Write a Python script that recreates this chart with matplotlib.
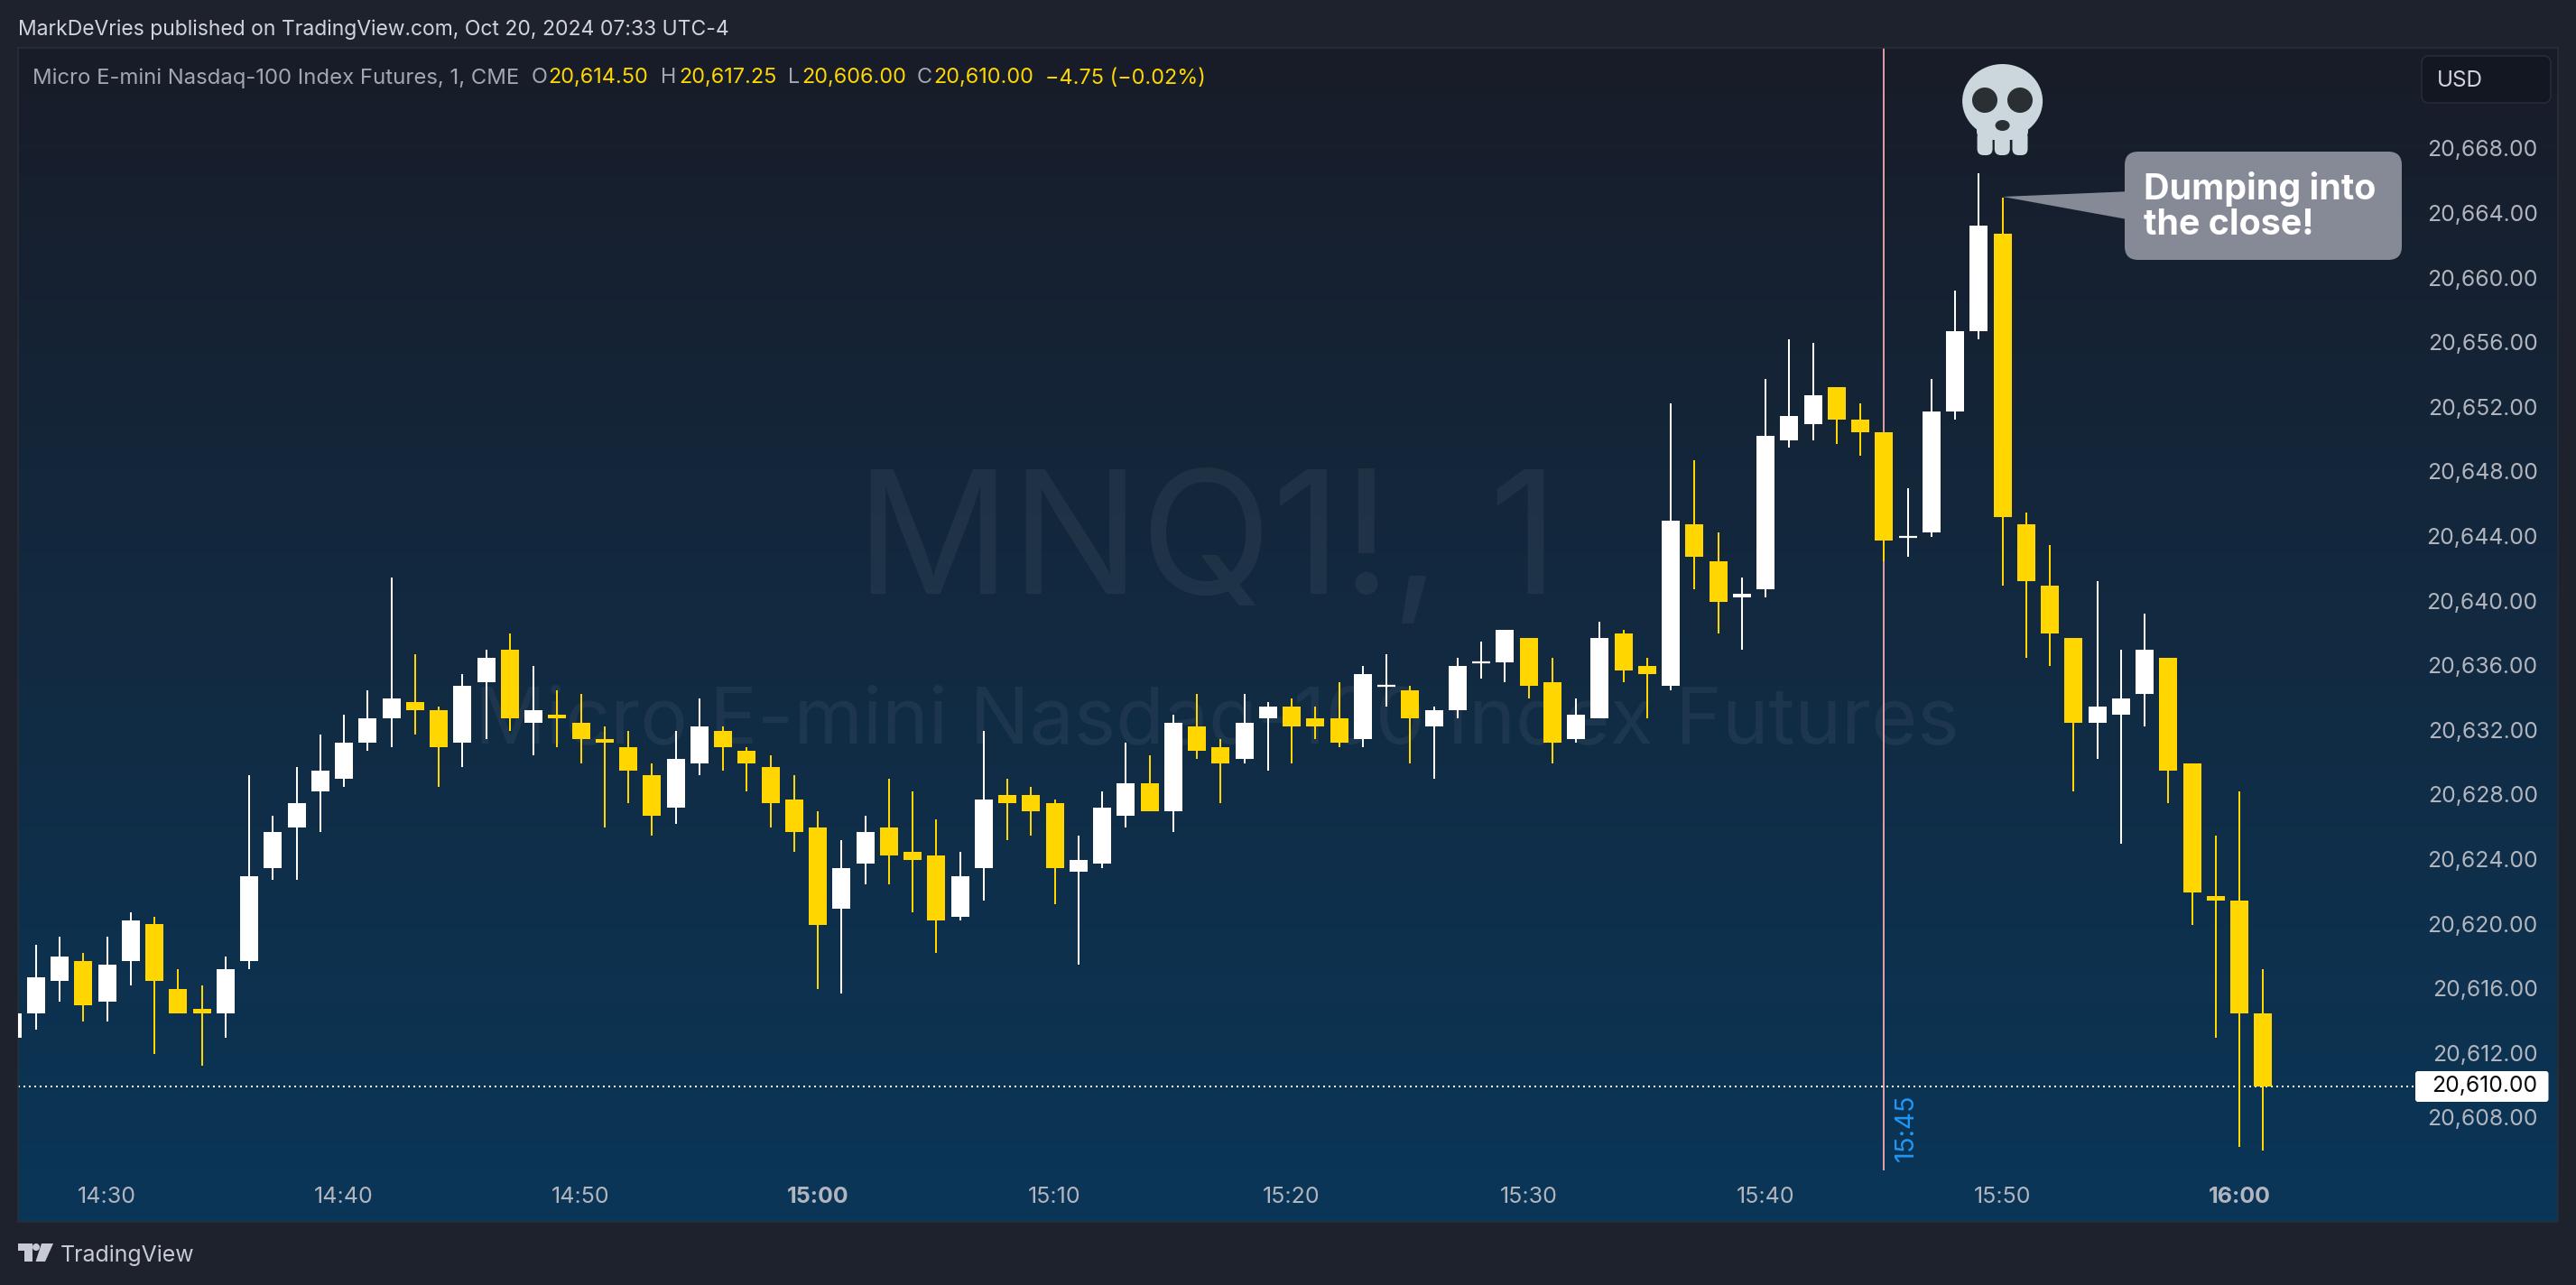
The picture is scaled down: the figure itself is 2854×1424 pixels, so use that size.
import numpy as np
import matplotlib
matplotlib.use("Agg")
import matplotlib.pyplot as plt
from matplotlib.patches import FancyBboxPatch, Ellipse, Polygon, Circle
from matplotlib.transforms import Affine2D
from matplotlib.colors import LinearSegmentedColormap

plt.rcParams['font.family'] = ['Inter', 'DejaVu Sans']

# minutes after midnight, one candle per minute (14:26 ... 16:01)
minutes = list(range(866, 962))
opens = [20613,20614.5,20616.5,20617.75,20615.25,20617.75,20620,20616,20614.75,20614.5,
         20617.75,20623.5,20626,20628.25,20629,20631.25,20632.75,20633.75,20633.25,20631.25,
         20635,20637,20632.5,20633,20632.5,20631.5,20631,20629.25,20627.25,20630,
         20632,20630.75,20629.75,20627.75,20626,20621,20623.75,20626,20624.5,20624.25,
         20620.5,20623.5,20628,20628,20627.5,20623.25,20623.75,20626.75,20628.75,20627,
         20632.25,20631,20630.25,20632.75,20633.5,20632.75,20632.75,20631.5,20634.75,20634.5,
         20632.25,20633.25,20636.25,20636.25,20637.75,20635,20631.5,20632.75,20638,20636,
         20634.75,20644.75,20642.5,20640.25,20640.75,20650,20651,20653.25,20651.25,20650.5,
         20644,20644.25,20651.75,20656.75,20662.75,20644.75,20641,20637.75,20632.5,20633,
         20634.25,20636.5,20630,20621.75,20621.5,20614.5]
highs = [20614.5,20618.75,20619.25,20618.25,20619.25,20620.75,20620.5,20617.25,20616.25,20618,
         20629.25,20626.75,20629.75,20631.75,20633,20634.5,20641.5,20636.75,20633.5,20635.5,
         20637,20638,20636,20634.5,20634.25,20632.25,20632,20630,20632,20634,
         20632.25,20631,20630.5,20629.25,20627,20625.25,20626.75,20629,20628.25,20626.5,
         20624.5,20632,20629,20628.5,20627.75,20625.5,20628.25,20631.25,20630.5,20633,
         20634.25,20631.5,20634.25,20633.75,20634,20633.5,20635,20636,20636.75,20634.75,
         20633.5,20636.5,20637.5,20638.25,20637.75,20636.5,20634,20638.75,20638.25,20636.5,
         20652.25,20648.75,20644.25,20641.5,20653.75,20656.25,20656,20653.25,20652.25,20650.5,
         20647,20653.75,20659.25,20666.5,20665,20645.5,20643.5,20637.75,20641.25,20637,
         20639.25,20636.5,20630,20625.5,20628.25,20617.25]
lows = [20613,20613.5,20615.25,20614,20614,20616.25,20612,20614.5,20611.25,20613,
        20617.25,20622.75,20622.75,20625.75,20628.5,20630.75,20631,20631.75,20628.5,20629.75,
        20631.5,20632,20630.5,20631,20630,20626,20627.5,20625.5,20626.25,20629.25,
        20629.5,20628.25,20626,20624.5,20616,20615.75,20622.5,20622.5,20620.75,20618.25,
        20620.25,20621.5,20625.25,20625.5,20621.25,20617.5,20623.5,20626,20627,20625.75,
        20630.25,20627.5,20630,20629.5,20630,20631.5,20631,20631,20633.5,20630,
        20629,20632.75,20635.25,20635,20634,20630,20631.25,20632.75,20635,20632.75,
        20634.5,20640.75,20638,20637,20640.25,20649.5,20650,20649.75,20649,20642.5,
        20642.75,20644,20651.25,20656.25,20641,20636.5,20636,20628.25,20630.25,20625,
        20632.25,20627.5,20620,20613,20606.25,20606]
closes = [20614.5,20616.75,20618,20615,20617.5,20620.25,20616.5,20614.5,20614.5,20617.25,
          20623,20625.75,20627.5,20629.5,20631.25,20632.75,20634,20633.25,20631,20634.75,
          20636.5,20632.75,20633.25,20632.75,20631.5,20631.25,20629.5,20626.75,20630.25,20632.25,
          20631,20630,20627.5,20625.75,20620,20623.5,20625.75,20624.25,20624,20620.25,
          20623,20627.75,20627.5,20627,20623.5,20624,20627.25,20628.75,20627,20632.5,
          20630.75,20630,20632.5,20633.5,20632.25,20632.25,20631.25,20635.5,20634.75,20632.75,
          20633.25,20636,20636.25,20638.25,20634.75,20631.25,20633,20637.75,20635.75,20635.5,
          20645,20642.75,20640,20640.5,20650.25,20651.5,20652.75,20651.25,20650.5,20643.75,
          20644,20651.75,20656.75,20663.25,20645.25,20641.25,20638,20632.5,20633.5,20634,
          20637,20629.5,20622,20621.5,20614.5,20610]

last_price = 20610.0
price_ticks = [20608, 20612, 20616, 20620, 20624, 20628, 20632, 20636, 20640, 20644, 20648, 20652,
               20656, 20660, 20664, 20668]
time_ticks = [870, 880, 890, 900, 910, 920, 930, 940, 950, 960]
time_labels = ['14:30', '14:40', '14:50', '15:00', '15:10', '15:20', '15:30', '15:40', '15:50', '16:00']
marker_minute = 945
marker_end_price = 20604.8

BG = '#1e222d'
WHITE = '#ffffff'
YELLOW = '#ffd600'
W, H = 2854, 1424
L, R, T, B = 20, 2834, 53, 1354
PX_MIN = 26.25
PX_PT = 17.9

fig = plt.figure(figsize=(W / 100, H / 100), dpi=100, facecolor=BG)
ax = fig.add_axes([L / W, 1 - B / H, (R - L) / W, (B - T) / H])
ax.set_xlim(900 + (L - 906) / PX_MIN, 900 + (R - 906) / PX_MIN)
ax.set_ylim(20610 - (B - 1203.5) / PX_PT, 20610 + (1203.5 - T) / PX_PT)

cmap = LinearSegmentedColormap.from_list('bg', ['#181c28', '#122a41', '#0a3658'])
ax.imshow(np.linspace(0, 1, 256).reshape(-1, 1), cmap=cmap, aspect='auto',
          extent=[*ax.get_xlim(), ax.get_ylim()[0], ax.get_ylim()[1]], origin='upper', zorder=0)
for s in ax.spines.values():
    s.set_color('#2a2e39')
    s.set_linewidth(1.2)

# watermark
pix = Affine2D().scale(1, -1).translate(0, H)
ax.text(1338, 658, 'MNQ1!, 1', transform=pix, fontsize=137, color='white', alpha=0.055,
        ha='center', va='baseline', zorder=1)
ax.text(1348, 824, 'Micro E-mini Nasdaq-100 Index Futures', transform=pix, fontsize=63, color='white',
        alpha=0.055, ha='center', va='baseline', zorder=1)

# marker line
ax.vlines(marker_minute, marker_end_price, ax.get_ylim()[1], color='#f4a9b3', lw=1.3, zorder=2)
ax.text(2112, 1250, '15:45', transform=pix, color='#2196f3', fontsize=21, rotation=90,
        ha='center', va='center', zorder=2)

# last price line
ax.hlines(last_price, ax.get_xlim()[0], 900 + (2676 - 906) / PX_MIN, color='white', lw=1.44,
          linestyles=[(0, (1, 2))], zorder=2.5)

# candles
x = np.array(minutes, dtype=float)
o, h, l, c = map(np.array, (opens, highs, lows, closes))
colors = [WHITE if cc >= oo else YELLOW for oo, cc in zip(o, c)]
ax.vlines(x, l, h, colors=colors, lw=1.44, zorder=3)
ax.bar(x, np.abs(c - o), bottom=np.minimum(o, c), width=20 / PX_MIN, color=colors, linewidth=0, zorder=3)
flat = o == c
ax.hlines(o[flat], x[flat] - 10 / PX_MIN, x[flat] + 10 / PX_MIN, color=WHITE, lw=1.6, zorder=3)

# axes ticks inside the pane
TICK = '#b2b5be'
ax.yaxis.tick_right()
ax.set_yticks(price_ticks)
ax.set_yticklabels([f'{p:,.2f}' for p in price_ticks])
ax.tick_params(axis='y', length=0, pad=-16.1, labelcolor=TICK, labelsize=17.8)
for lab in ax.get_yticklabels():
    lab.set_ha('right')
    lab.set_va('center')
    lab.set_transform(lab.get_transform() + Affine2D().translate(0, -1.6))
ax.set_xticks(time_ticks)
ax.set_xticklabels(time_labels)
ax.tick_params(axis='x', length=0, pad=-19.5, labelcolor=TICK, labelsize=18)
for lab in ax.get_xticklabels():
    lab.set_va('center')
    if lab.get_text().endswith(':00'):
        lab.set_fontweight('bold')

over = 20


def add(p):
    p.set_transform(pix)
    p.set_clip_on(False)
    p.set_zorder(over)
    ax.add_patch(p)


def txt(px, py, s, **kw):
    kw.setdefault('va', 'center')
    kw.setdefault('zorder', over + 1)
    ax.text(px, py, s, transform=pix, clip_on=False, **kw)


# last price box
add(FancyBboxPatch((2676, 1187), 147.5, 34, boxstyle='round,pad=0,rounding_size=3', fc='white', ec='none'))
txt(2811.6, 1204, f'{last_price:,.2f}', color='#0a0a0a', fontsize=17.8, ha='right')

# USD box
add(FancyBboxPatch((2683, 62), 143, 52, boxstyle='round,pad=0,rounding_size=8', fc='#131722', ec='#2a2e39', lw=1))
txt(2700, 89, 'USD', color='#d1d4dc', fontsize=17.5, ha='left')

# header
txt(20, 33, 'MarkDeVries published on TradingView.com, Oct 20, 2024 07:33 UTC-4', color='#d1d4dc', fontsize=16.5, ha='left')
GREY = '#a3a7b2'
txt(36, 86.5, 'Micro E-mini Nasdaq-100 Index Futures, 1, CME', color=GREY, fontsize=17.2, ha='left')
for px, s, col in [(589, 'O', GREY), (607, '20,614.50', YELLOW), (732, 'H', GREY), (752, '20,617.25', YELLOW),
                   (873, 'L', GREY), (888, '20,606.00', YELLOW), (1016, 'C', GREY), (1034, '20,610.00', YELLOW),
                   (1158, '\u22124.75 (\u22120.02%)', YELLOW)]:
    txt(px, 86.5, s, color=col, fontsize=16.9, ha='left')

# callout
CALL = '#868a96'
add(Polygon([(2219, 218), (2362, 212), (2362, 244)], closed=True, fc=CALL, ec='none'))
add(FancyBboxPatch((2354, 168), 307, 120, boxstyle='round,pad=0,rounding_size=15', fc=CALL, ec='none'))
txt(2375, 229, 'Dumping into\nthe close!', color='white', fontsize=28.4, fontweight='bold', ha='left', linespacing=1.08)

# skull
SK, DK = '#ccd6dd', '#292f33'
add(Ellipse((2218.6, 112), 89, 82, fc=SK, ec='none'))
add(FancyBboxPatch((2190, 125), 57, 30, boxstyle='round,pad=0,rounding_size=10', fc=SK, ec='none'))
for tx in (2190.6, 2209.8, 2229.5):
    add(FancyBboxPatch((tx, 145), 17, 27, boxstyle='round,pad=0,rounding_size=7', fc=SK, ec='none'))
for ex in (2199, 2238):
    add(Ellipse((ex, 111), 28, 28, fc=DK, ec='none'))
add(Ellipse((2218.6, 139), 16, 12, fc=DK, ec='none'))

# logo
LOGO = '#c8cbd4'
add(Polygon([(20, 1378), (36, 1378), (36, 1398), (27, 1398), (27, 1386), (20, 1386)], closed=True, fc=LOGO, ec='none'))
add(Circle((40, 1382), 4, fc=LOGO, ec='none'))
add(Polygon([(46, 1378), (59, 1378), (50, 1398), (39.5, 1398)], closed=True, fc=LOGO, ec='none'))
txt(67, 1391, 'TradingView', color=LOGO, fontsize=17.9, ha='left')

fig.savefig('out.png', dpi=100, facecolor=BG)
